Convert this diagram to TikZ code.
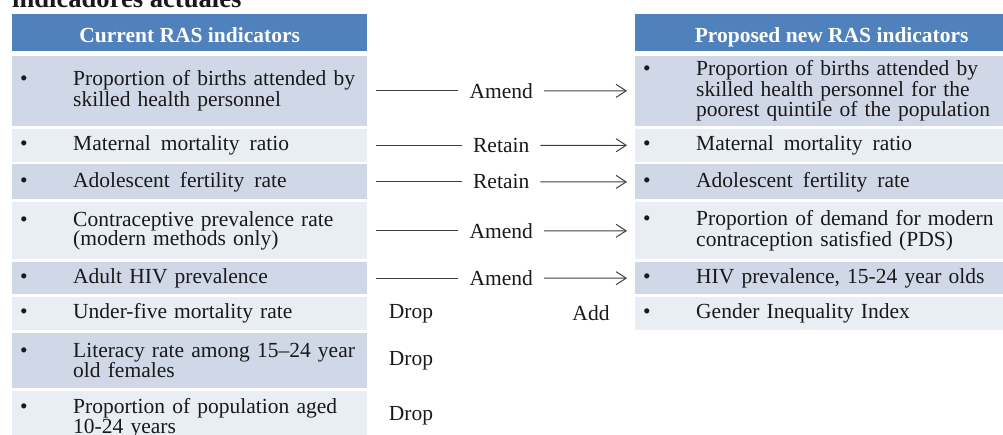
\documentclass[tikz,border=0pt]{standalone}
\usepackage{fontspec}
\setmainfont{Liberation Serif}
\usetikzlibrary{arrows.meta,positioning,calc}
\definecolor{rasBlue}{HTML}{4F81BD}
\definecolor{rasDark}{HTML}{D0D8E8}
\definecolor{rasLight}{HTML}{E9EDF4}
\definecolor{rasLine}{HTML}{404040}
\newlength{\bulgap}\setlength{\bulgap}{53pt}
\newcommand{\rasitem}[1]{\makebox[\bulgap][l]{\textbullet}\parbox[t]{\dimexpr\linewidth-\bulgap\relax}{#1}}
\newcommand{\widesp}{\spaceskip=10pt\relax}

\begin{document}
\begin{tikzpicture}[
x=1pt, y=1pt,
node distance=2.5pt,
every node/.style={font=\fontsize{21.5}{19.5}\selectfont, text=black!90},
head/.style={fill=rasBlue, text=white, font=\fontsize{21.5}{19.5}\selectfont\bfseries, minimum height=37pt, text height=20pt, text depth=0pt, inner sep=0pt, anchor=north west},
lrow/.style={text width=339pt, inner xsep=8pt, inner ysep=0pt, align=left, minimum height=#1},
rrow/.style={text width=377pt, inner xsep=8pt, inner ysep=0pt, align=left, minimum height=#1},
dk/.style={fill=rasDark},
lt/.style={fill=rasLight},
act/.style={inner xsep=11pt, inner ysep=1pt},
ln/.style={draw=rasLine, line width=1pt, shorten <=9pt},
arr/.style={draw=rasLine, line width=1pt, -{Straight Barb[length=10pt,width=13pt]}, shorten >=8pt}
]
\useasboundingbox (0,0) rectangle (1003,-434);
\clip (0,0) rectangle (1003,-434);

% slide title, cut off at the top
\node[anchor=base west, inner sep=0pt, font=\fontsize{26.6}{30}\selectfont\bfseries] (title) at (12,-7.3) {indicadores actuales};

% Current indicators (left table)
\node[head, minimum width=355pt] (L0) at (12,-14) {Current RAS indicators};
\node[lrow=70.5pt, dk, below=4pt of L0] (L1) {\rasitem{Proportion of births attended by\\skilled health personnel}};
\node[lrow=32.5pt, lt, below=of L1] (L2) {\rasitem{\widesp Maternal mortality ratio}};
\node[lrow=35pt, dk, below=of L2] (L3) {\rasitem{\widesp Adolescent fertility rate}};
\node[lrow=57pt, lt, below=of L3] (L4) {\rasitem{Contraceptive prevalence rate\\(modern methods only)}};
\node[lrow=32pt, dk, below=of L4] (L5) {\rasitem{Adult HIV prevalence}};
\node[lrow=33pt, lt, below=of L5] (L6) {\rasitem{Under-five mortality rate}};
\node[lrow=55pt, dk, below=of L6] (L7) {\rasitem{Literacy rate among 15--24 year\\old females}};
\node[lrow=55pt, lt, below=of L7] (L8) {\rasitem{Proportion of population aged\\10-24 years}};

% Proposed indicators (right table)
\node[head, minimum width=393pt] (R0) at (635,-14) {Proposed new RAS indicators};
\node[rrow=70.5pt, dk, below=4pt of R0] (R1) {\rasitem{Proportion of births attended by\\skilled health personnel for the\\poorest quintile of the population}};
\node[rrow=32.5pt, lt, below=of R1] (R2) {\rasitem{\widesp Maternal mortality ratio}};
\node[rrow=35pt, dk, below=of R2] (R3) {\rasitem{\widesp Adolescent fertility rate}};
\node[rrow=57pt, lt, below=of R3] (R4) {\rasitem{Proportion of demand for modern\\contraception satisfied (PDS)}};
\node[rrow=32pt, dk, below=of R4] (R5) {\rasitem{HIV prevalence, 15-24 year olds}};
\node[rrow=33pt, lt, below=of R5] (R6) {\rasitem{Gender Inequality Index}};

% Actions between the tables
\node[act] (c1) at ($(L1.east |- R1.west)!0.5!(R1.west)$) {Amend};
\node[act] (c2) at ($(L2.east |- R2.west)!0.5!(R2.west)$) {Retain};
\node[act] (c3) at ($(L3.east |- R3.west)!0.5!(R3.west)$) {Retain};
\node[act] (c4) at ($(L4.east |- R4.west)!0.5!(R4.west)$) {Amend};
\node[act] (c5) at ($(L5.east |- R5.west)!0.5!(R5.west)$) {Amend};
\draw[ln] (L1.east |- c1) -- (c1); \draw[arr] (c1) -- (R1.west);
\draw[ln] (L2.east |- c2) -- (c2); \draw[arr] (c2) -- (R2.west);
\draw[ln] (L3.east |- c3) -- (c3); \draw[arr] (c3) -- (R3.west);
\draw[ln] (L4.east |- c4) -- (c4); \draw[arr] (c4) -- (R4.west);
\draw[ln] (L5.east |- c5) -- (c5); \draw[arr] (c5) -- (R5.west);

\node (d6) at (411,0 |- L6) {Drop};
\node (d7) at (411,0 |- L7) {Drop};
\node[yshift=3pt] (d8) at (411,0 |- L8) {Drop};
\node (a6) at (591,0 |- R6) {Add};
\end{tikzpicture}
\end{document}
